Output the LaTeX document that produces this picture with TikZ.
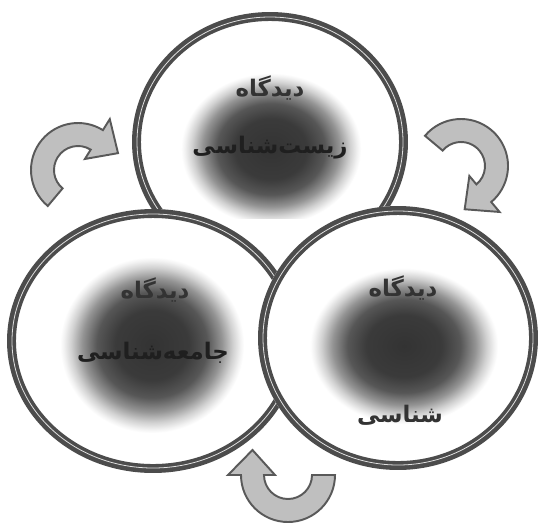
\documentclass[tikz,border=0pt]{standalone}
\usepackage{fontspec}
\newfontfamily\fa[Script=Arabic]{DejaVu Sans}
\TeXXeTstate=1
\usetikzlibrary{calc}
\pgfdeclareradialshading{blob}{\pgfpoint{0bp}{0bp}}{color(0bp)=(black!80); color(10bp)=(black!77); color(15bp)=(black!66); color(19bp)=(black!42); color(22bp)=(black!18); color(24bp)=(black!5); color(25bp)=(white); color(50bp)=(white)}
\newcommand\mycyc[3]{%
  \draw[arrowsty] ($(#1)+(#2:47)$) arc[start angle=#2, end angle=#3, radius=47]
    -- ($(#1)+(#3:60)$) -- ($(#1)+(#3:35.5)+(#3-90:25)$) -- ($(#1)+(#3:13)$) -- ($(#1)+(#3:24)$)
    arc[start angle=#3, end angle=#2, radius=24] -- cycle;}
\begin{document}
\begin{tikzpicture}[x=0.02cm,y=0.02cm,
  ringfill/.style={fill=white},
  ringband/.style={draw=black!70, line width=5.1pt},
  ringline/.style={draw=black!12, line width=0.45pt},
  fatext/.style={font=\fa\bfseries\fontsize{13}{15}\selectfont, text=black!80, inner sep=0pt},
  fahidden/.style={font=\fa\bfseries\fontsize{13}{15}\selectfont, text=black!88, inner sep=0pt},
  arrowsty/.style={fill=black!25, draw=black!65, line width=1.1pt, line join=miter}]
\fill[white] (0,0) rectangle (540,522);
\useasboundingbox (0,0) rectangle (540,522);
% top circle
\coordinate (ct) at (270,380);
\begin{scope}
\clip (0,304) rectangle (540,522);
\fill[ringfill] (ct) ellipse [x radius=138, y radius=130];
\shade[shading=blob] (271,373) ellipse [x radius=90, y radius=76];
\draw[ringband] (ct) ellipse [x radius=133.5, y radius=125.5];
\draw[ringline] (ct) ellipse [x radius=133, y radius=125];
\end{scope}
\node[fatext] (t1) at (270,434) {\beginR دیدگاه\endR};
\node[fahidden] (t2) at (270,374) {\beginR زیست‌شناسی\endR};
% left circle
\coordinate (cl) at (153,181);
\fill[ringfill] (cl) ellipse [x radius=146, y radius=132];
\shade[shading=blob] (152,177) ellipse [x radius=92, y radius=88];
\draw[ringband] (cl) ellipse [x radius=141.5, y radius=127.5];
\draw[ringline] (cl) ellipse [x radius=141, y radius=127];
\node[fatext] (l1) at (155,232) {\beginR دیدگاه\endR};
\node[fahidden] (l2) at (153,169) {\beginR جامعه‌شناسی\endR};
% right circle
\coordinate (cr) at (398,184);
\fill[ringfill] (cr) ellipse [x radius=140, y radius=132];
\shade[shading=blob] (404,176) ellipse [x radius=94, y radius=78];
\draw[ringband] (cr) ellipse [x radius=135.5, y radius=127.5];
\draw[ringline] (cr) ellipse [x radius=135, y radius=127];
\node[fatext] (r1) at (403,234) {\beginR دیدگاه\endR};
\node[fatext] (r2) at (400,107) {\beginR شناسی\endR};
% cycle arrows
\coordinate (a1c) at (78,352);
\coordinate (a2c) at (461,356);
\coordinate (a3c) at (288,47);
\mycyc{a1c}{230}{58}
\mycyc{a2c}{140}{-50}
\mycyc{a3c}{0}{-180}
\end{tikzpicture}
\end{document}
